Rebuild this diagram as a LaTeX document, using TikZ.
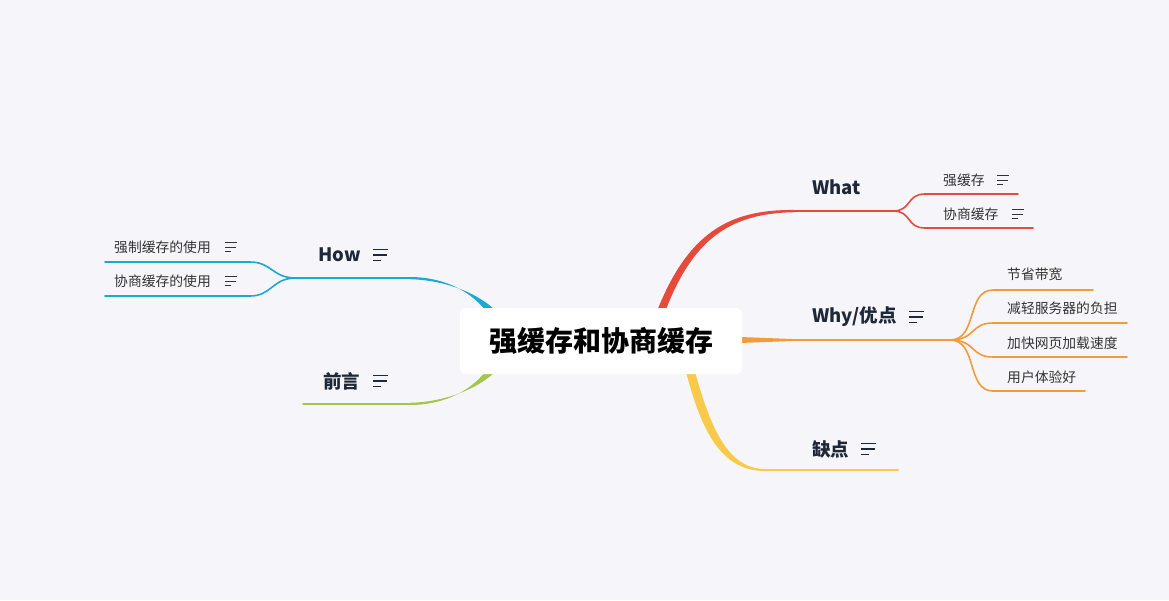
\documentclass[tikz,border=0pt]{standalone}
\usepackage{fontspec}
\setmainfont{Noto Sans CJK SC}
\definecolor{bg}{HTML}{F6F6FA}
\definecolor{cred}{HTML}{E64A3B}
\definecolor{corange}{HTML}{F29B3A}
\definecolor{cyellow}{HTML}{F9C94A}
\definecolor{cblue}{HTML}{1AA9D0}
\definecolor{cgreen}{HTML}{A5C54D}
\definecolor{ctxt}{HTML}{1E2838}
\definecolor{csub}{HTML}{333333}
\tikzset{
  mainlab/.style={anchor=west, inner sep=0, font=\fontsize{18.5}{22}\selectfont\bfseries, text=ctxt},
  sublab/.style={anchor=west, inner sep=0, font=\fontsize{13.8}{16}\selectfont, text=csub},
  thinline/.style={line width=2pt, line cap=round},
  subline/.style={line width=1.6pt, line cap=round},
  noteicon/.pic={\draw[line width=1.1pt, ctxt] (0,-5.5) -- (15,-5.5) (0,0) -- (14,0) (0,5.5) -- (8,5.5);},
  smallicon/.pic={\draw[line width=0.9pt, csub] (0,-4.5) -- (12,-4.5) (0,0) -- (11,0) (0,4.5) -- (6,4.5);},
}
\begin{document}
\begin{tikzpicture}[x=1pt,y=-1pt]
\fill[bg] (0,0) rectangle (1169,600);
\useasboundingbox (0,0) rectangle (1169,600);

% branch trunks (tapered)
\fill[cred] (657,311) .. controls (688,233) and (729,209) .. (795,210) -- (795,212.2) .. controls (731,213) and (693,238) .. (665,312) -- cycle;
\fill[corange] (740,337) -- (792,339) -- (792,341) -- (740,343) -- cycle;
\fill[cyellow] (686,372) .. controls (702,433) and (722,471) .. (765,471) -- (765,469) .. controls (729,469) and (711,430) .. (695,372) -- cycle;
\fill[cblue] (486,311) .. controls (467,287) and (438,277) .. (410,277) -- (410,279.2) .. controls (442,280) and (474,291) .. (494,309) -- cycle;
\fill[cgreen] (486,371) .. controls (467,395) and (438,405) .. (410,405) -- (410,402.8) .. controls (442,402) and (474,391) .. (494,373) -- cycle;

% center node
\node[fill=white, rounded corners=6pt, minimum width=282pt, minimum height=66pt, inner sep=0,
      font=\fontsize{28}{32}\selectfont\bfseries, text=black] (c) at (601,341) {强缓存和协商缓存};

% coordinates
\coordinate (whatA) at (795,211);
\coordinate (whatJ) at (893,211);
\coordinate (whyA) at (792,340);
\coordinate (whyJ) at (950,340);
\coordinate (conA) at (765,470);
\coordinate (conE) at (898,470);
\coordinate (howA) at (410,278);
\coordinate (howJ) at (296,278);
\coordinate (preA) at (410,404);
\coordinate (preE) at (303,404);

\coordinate (w1s) at (925,194); \coordinate (w1e) at (1018,194);
\coordinate (w2s) at (925,228); \coordinate (w2e) at (1033,228);
\coordinate (y1s) at (993,290); \coordinate (y1e) at (1093,290);
\coordinate (y2s) at (993,323); \coordinate (y2e) at (1127,323);
\coordinate (y3s) at (993,357); \coordinate (y3e) at (1127,357);
\coordinate (y4s) at (993,391); \coordinate (y4e) at (1085,391);
\coordinate (h1s) at (250,262); \coordinate (h1e) at (105,262);
\coordinate (h2s) at (250,296); \coordinate (h2e) at (105,296);

% trunk continuations
\draw[thinline, cred] (whatA) -- (whatJ);
\draw[thinline, corange] (whyA) -- (whyJ);
\draw[thinline, cyellow] (conA) -- (conE);
\draw[thinline, cblue] (howA) -- (howJ);
\draw[thinline, cgreen] (preA) -- (preE);

% sub branches
\draw[subline, cred] (whatJ) .. controls (912,211) and (906,194) .. (w1s) -- (w1e);
\draw[subline, cred] (whatJ) .. controls (912,211) and (906,228) .. (w2s) -- (w2e);
\draw[subline, corange] (whyJ) .. controls (978,340) and (966,290) .. (y1s) -- (y1e);
\draw[subline, corange] (whyJ) .. controls (976,340) and (970,323) .. (y2s) -- (y2e);
\draw[subline, corange] (whyJ) .. controls (976,340) and (970,357) .. (y3s) -- (y3e);
\draw[subline, corange] (whyJ) .. controls (978,340) and (966,391) .. (y4s) -- (y4e);
\draw[subline, cblue] (howJ) .. controls (272,278) and (272,262) .. (h1s) -- (h1e);
\draw[subline, cblue] (howJ) .. controls (272,278) and (272,296) .. (h2s) -- (h2e);

% main labels
\node[mainlab] (what) at (812,187) {What};
\node[mainlab] (why) at (812,317) {Why/优点};
\pic at (909,317) {noteicon};
\node[mainlab] (con) at (812,449) {缺点};
\pic at (861,449) {noteicon};
\node[mainlab] (how) at (318,255) {How};
\pic at (373,255) {noteicon};
\node[mainlab] (pre) at (323,381) {前言};
\pic at (373,381) {noteicon};

% sub labels
\node[sublab] (s1) at (943,180) {强缓存};
\pic at (997,180) {smallicon};
\node[sublab] (s2) at (943,214) {协商缓存};
\pic at (1012,214) {smallicon};
\node[sublab] (p1) at (1007,274) {节省带宽};
\node[sublab] (p2) at (1007,308) {减轻服务器的负担};
\node[sublab] (p3) at (1007,343) {加快网页加载速度};
\node[sublab] (p4) at (1007,377) {用户体验好};
\node[sublab] (h1) at (114,247) {强制缓存的使用};
\pic at (225,247) {smallicon};
\node[sublab] (h2) at (114,281) {协商缓存的使用};
\pic at (225,281) {smallicon};
\end{tikzpicture}
\end{document}
